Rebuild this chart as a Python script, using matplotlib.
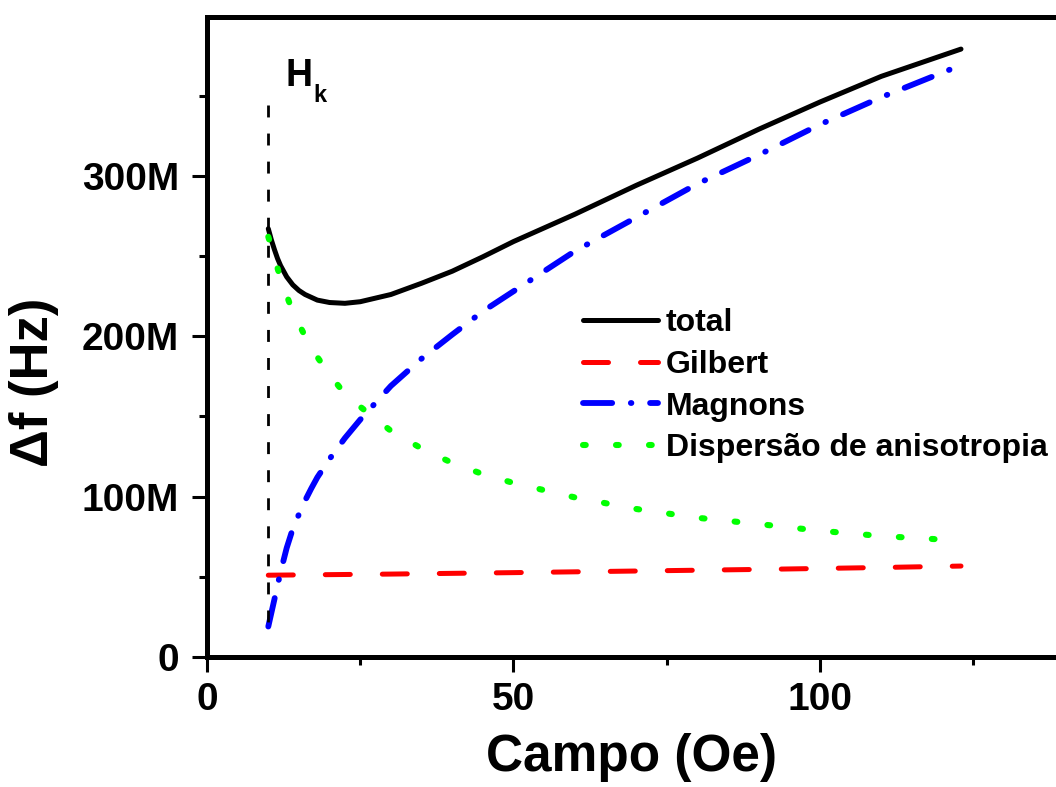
import matplotlib
matplotlib.use("Agg")
import matplotlib.pyplot as plt
from matplotlib.ticker import FixedLocator, FuncFormatter

plt.rcParams["font.family"] = ["Liberation Sans", "DejaVu Sans"]
plt.rcParams["font.weight"] = "bold"

# Field (Oe) and linewidth contributions (MHz)
field_total = [10, 10.5, 11, 11.5, 12, 13, 14, 15, 16, 18, 20, 22.5, 25, 30, 35, 40,
               45, 50, 60, 70, 80, 90, 100, 110, 123]
total = [267, 260, 254, 248.5, 244, 237, 232, 228.5, 226, 222.5, 221, 220.5, 221.5,
         226, 233, 240.5, 249.5, 259, 276, 294, 311, 329, 346, 362, 379]

field_gilbert = [10, 30, 50, 70, 90, 110, 123]
gilbert = [51, 51.7, 52.6, 53.6, 54.6, 55.8, 56.7]

field_magnons = [10, 11, 12, 13, 14, 15, 16, 17, 18, 20, 22.5, 25, 30, 35, 40, 45,
                 50, 60, 70, 80, 90, 100, 110, 123]
magnons = [19, 36, 53, 68, 80, 89, 97.5, 105, 112, 123.5, 136.5, 148, 169, 186, 201,
           215.5, 228, 253, 274, 295, 313, 332, 349, 369]

field_disp = [10, 11, 12, 14, 16, 18, 20, 22.5, 25, 30, 35, 40, 45, 50, 60, 70, 80,
              90, 100, 110, 121]
dispersion = [262, 249, 236, 215, 200, 187, 176, 164, 156, 141, 130, 121, 114,
              108.5, 99.5, 92.3, 86.8, 82.9, 78.7, 75.4, 73]

hk_field = 10
hk_span = [344, 12]

labels = ["total", "Gilbert", "Magnons", "Dispersão de anisotropia"]

W, H = 1056, 787
fig = plt.figure(figsize=(W / 100, H / 100), dpi=100)
ax = fig.add_axes([207 / W, 1 - 657 / H, 140 * 6.13 / W, 640 / H])

ax.plot(field_total, total, color="black", lw=3.6, solid_capstyle="round",
        solid_joinstyle="round", label=labels[0])
ax.plot(field_gilbert, gilbert, color="#ff0000", lw=3.6,
        linestyle=(0, (5, 6.4)), dash_capstyle="round", label=labels[1])
ax.plot(field_magnons, magnons, color="#0000ff", lw=4.2,
        linestyle=(0, (5.0, 3.2, 0.1, 3.2)), dash_capstyle="round", label=labels[2])
ax.plot(field_disp, dispersion, color="#00ff00", lw=4.4,
        linestyle=(0, (0.45, 4.95)), dash_capstyle="round", label=labels[3])

ax.plot([hk_field, hk_field], hk_span, color="black", lw=2.0,
        linestyle=(0, (4.3, 5.8)))

ax.text(12.8, 356, "H", fontsize=27, fontweight="bold", ha="left", va="baseline")
ax.text(17.4, 346, "k", fontsize=17, fontweight="bold", ha="left", va="baseline")

ax.set_xlim(0, 140)
ax.set_ylim(0, 399)

ax.xaxis.set_major_locator(FixedLocator([0, 50, 100]))
ax.xaxis.set_minor_locator(FixedLocator([25, 75, 125]))
ax.yaxis.set_major_locator(FixedLocator([0, 100, 200, 300]))
ax.yaxis.set_minor_locator(FixedLocator([50, 150, 250, 350]))
ax.yaxis.set_major_formatter(FuncFormatter(lambda v, p: "0" if v == 0 else f"{v:.0f}M"))

for s in ax.spines.values():
    s.set_linewidth(3.6)

ax.tick_params(which="major", direction="out", length=11, width=2.2,
               labelsize=28, pad=7)
ax.tick_params(axis="y", which="major", pad=9)
ax.tick_params(which="minor", direction="out", length=5.5, width=2.2)
ax.tick_params(top=False, right=False)

fig.text(631 / W, 1 - 758 / H, "Campo (Oe)", fontsize=37, fontweight="bold",
         ha="center", va="center")
fig.text(34 / W, 1 - 382 / H, "\u0394f (Hz)", fontsize=38, fontweight="bold",
         ha="center", va="center", rotation=90)

leg = ax.legend(loc="upper left", bbox_to_anchor=(583 / W, 1 - 308 / H),
                bbox_transform=fig.transFigure, frameon=False, fontsize=23,
                handlelength=2.35, handletextpad=0.25, labelspacing=0.37,
                borderpad=0, borderaxespad=0)

fig.savefig("out.png", dpi=100)
